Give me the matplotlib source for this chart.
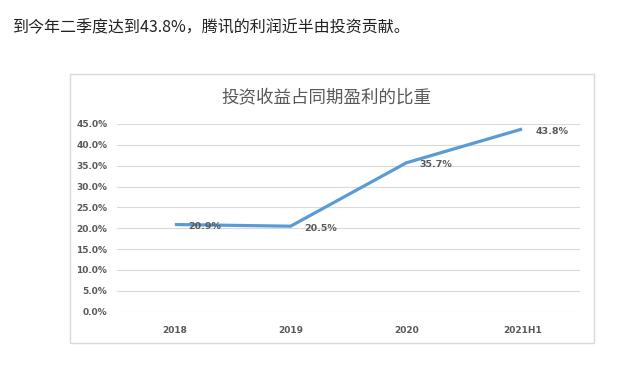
import matplotlib
matplotlib.use('Agg')
import matplotlib.pyplot as plt
from matplotlib.patches import Rectangle
from matplotlib.ticker import PercentFormatter

plt.rcParams['font.family'] = ['Noto Sans CJK SC', 'DejaVu Sans']

# 数据
years = ['2018', '2019', '2020', '2021H1']
ratio = [20.9, 20.5, 35.7, 43.8]
y_ticks = [0, 5, 10, 15, 20, 25, 30, 35, 40, 45]

W, H = 621, 370
fig = plt.figure(figsize=(W / 100, H / 100), dpi=100)
fig.patch.set_facecolor('white')

# 顶部说明文字
fig.text(12 / W, 1 - 28 / H, '到今年二季度达到43.8%，腾讯的利润近半由投资贡献。',
         fontsize=11.5, color='#222222', va='center', ha='left')

# 图表外框
fig.patches.append(Rectangle((70 / W, 1 - 343 / H), 524 / W, 269 / H,
                             transform=fig.transFigure, fill=False,
                             edgecolor='#D9D9D9', linewidth=1))

ax = fig.add_axes([117 / W, 1 - 311.7 / H, 463 / W, 187.7 / H])
x = range(len(years))
ax.plot(x, ratio, color='#5B9BD5', linewidth=2.3, solid_capstyle='butt')

for i, v in zip(x, ratio):
    ax.annotate(f'{v}%', (i, v), xytext=(9.5, -1.5), textcoords='offset points',
                fontsize=6.8, color='#595959', fontweight='bold',
                va='center', ha='left', family=['DejaVu Sans'])

ax.set_xlim(-0.5, len(years) - 0.5)
ax.set_ylim(0, 45)
ax.set_yticks(y_ticks)
ax.yaxis.set_major_formatter(PercentFormatter(decimals=1))
ax.set_xticks(list(x))
ax.set_xticklabels(years)
ax.grid(axis='y', color='#D9D9D9', linewidth=0.8)
ax.set_axisbelow(True)
for s in ax.spines.values():
    s.set_visible(False)
ax.tick_params(length=0, labelsize=6.5, labelcolor='#595959', pad=7)
for lab in ax.get_xticklabels() + ax.get_yticklabels():
    lab.set_fontweight('bold')
    lab.set_family(['DejaVu Sans'])
ax.tick_params(axis='x', pad=10)

fig.text(326 / W, 1 - 97 / H, '投资收益占同期盈利的比重', fontsize=12.6,
         color='#595959', ha='center', va='center')

fig.savefig('out.png', dpi=100, facecolor='white')
